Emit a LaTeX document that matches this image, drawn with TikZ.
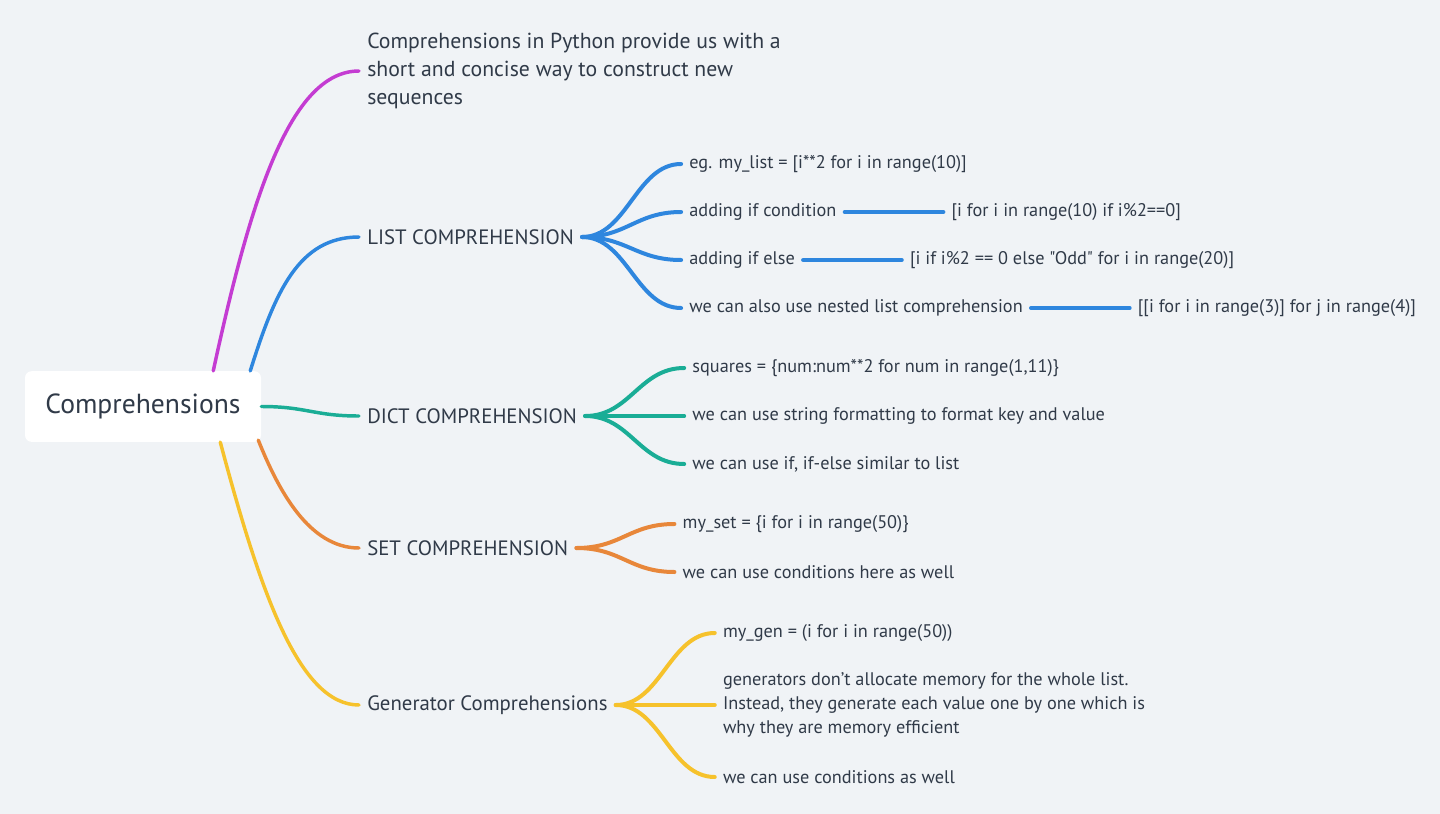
\documentclass[tikz,border=0pt]{standalone}
\usepackage{fontspec}
\setmainfont{PT Sans}[Ligatures=TeXOff]
\usetikzlibrary{positioning, calc}

\definecolor{bgcol}{RGB}{240,243,246}
\definecolor{txtcol}{RGB}{48,58,72}
\definecolor{magbr}{RGB}{196,60,210}
\definecolor{bluebr}{RGB}{46,134,222}
\definecolor{tealbr}{RGB}{26,173,150}
\definecolor{orangebr}{RGB}{232,135,58}
\definecolor{yellowbr}{RGB}{246,194,44}

\begin{document}
\begin{tikzpicture}[
            x=0.75pt, y=-0.75pt,
            root/.style={fill=white, rounded corners=5pt, minimum width=177pt, minimum height=53pt, text=txtcol, font=\fontsize{20.7}{24}\selectfont},
            topic/.style={anchor=west, inner xsep=6pt, inner ysep=0pt, text=txtcol, align=left, font=\fontsize{15.6}{21}\selectfont},
            leaf/.style={anchor=west, inner xsep=6pt, inner ysep=0pt, text=txtcol, align=left, font=\fontsize{13.7}{18}\selectfont},
            branch/.style={line width=2.6pt, line cap=round},
            twig/.style={line width=3pt, line cap=round}
        ]
            % Background
            \fill[bgcol] (0,0) rectangle (1440,814);

            % Root
            \node[root] (root) at (143,406.5) {Comprehensions};

            % Topics
            \node[topic, font=\fontsize{16.3}{21}\selectfont] (intro) at (359,71) {Comprehensions in Python provide us with a\\short and concise way to construct new\\sequences};
            \node[topic] (listc) at (359,237) {LIST COMPREHENSION};
            \node[topic] (dictc) at (359,416) {DICT COMPREHENSION};
            \node[topic] (setc) at (359,548) {SET COMPREHENSION};
            \node[topic] (genc) at (359,705) {Generator Comprehensions};

            % Main branches
            \draw[branch, magbr] ($(root.north east)+(-48,0)$) .. controls +(37,-171) and +(-69,0) .. (intro.west);
            \draw[branch, bluebr] ($(root.north east)+(-11,0)$) .. controls +(25,-80) and +(-60,0) .. (listc.west);
            \draw[branch, tealbr] (root.east) .. controls +(45,0) and +(-45,0) .. (dictc.west);
            \draw[branch, orangebr] ($(root.south east)+(-3,-2)$) .. controls +(20,50) and +(-50,0) .. (setc.west);
            \draw[branch, yellowbr] ($(root.south east)+(-41,0)$) .. controls +(40,150) and +(-60,0) .. (genc.west);

            % List comprehension
            \node[leaf] (l1) at ($(listc.east)+(99,-73)$) {eg. my\_list = [i**2 for i in range(10)]};
            \node[leaf] (l2) at ($(listc.east)+(99,-25)$) {adding if condition};
            \node[leaf] (l3) at ($(listc.east)+(99,23)$) {adding if else};
            \node[leaf] (l4) at ($(listc.east)+(99,71)$) {we can also use nested list comprehension};
            \node[leaf, right=74pt of l2] (l2b) {[i for i in range(10) if i\%2==0]};
            \node[leaf, right=74pt of l3] (l3b) {[i if i\%2 == 0 else "Odd" for i in range(20)]};
            \node[leaf, right=74pt of l4] (l4b) {[[i for i in range(3)] for j in range(4)]};
            \foreach \c in {l1,l2,l3,l4} {
                \draw[twig, bluebr] (listc.east) .. controls +(45,0) and +(-45,0) .. (\c.west);
            }
            \foreach \c in {l2,l3,l4} {
                \draw[twig, bluebr] (\c.east) -- (\c b.west);
            }

            % Dict comprehension
            \node[leaf] (d1) at ($(dictc.east)+(99,-48)$) {squares = \{num:num**2 for num in range(1,11)\}};
            \node[leaf] (d2) at ($(dictc.east)+(99,0)$) {we can use string formatting to format key and value};
            \node[leaf] (d3) at ($(dictc.east)+(99,48)$) {we can use if, if-else similar to list};
            \foreach \c in {d1,d2,d3} {
                \draw[twig, tealbr] (dictc.east) .. controls +(45,0) and +(-45,0) .. (\c.west);
            }

            % Set comprehension
            \node[leaf] (s1) at ($(setc.east)+(98,-24)$) {my\_set = \{i for i in range(50)\}};
            \node[leaf] (s2) at ($(setc.east)+(98,24)$) {we can use conditions here as well};
            \foreach \c in {s1,s2} {
                \draw[twig, orangebr] (setc.east) .. controls +(45,0) and +(-45,0) .. (\c.west);
            }

            % Generator comprehension
            \node[leaf] (g1) at ($(genc.east)+(99,-72)$) {my\_gen = (i for i in range(50))};
            \node[leaf] (g2) at ($(genc.east)+(99,0)$) {generators don’t allocate memory for the whole list.\\Instead, they generate each value one by one which is\\why they are memory efficient};
            \node[leaf] (g3) at ($(genc.east)+(99,72)$) {we can use conditions as well};
            \foreach \c in {g1,g2,g3} {
                \draw[twig, yellowbr] (genc.east) .. controls +(45,0) and +(-45,0) .. (\c.west);
            }
        \end{tikzpicture}
\end{document}
